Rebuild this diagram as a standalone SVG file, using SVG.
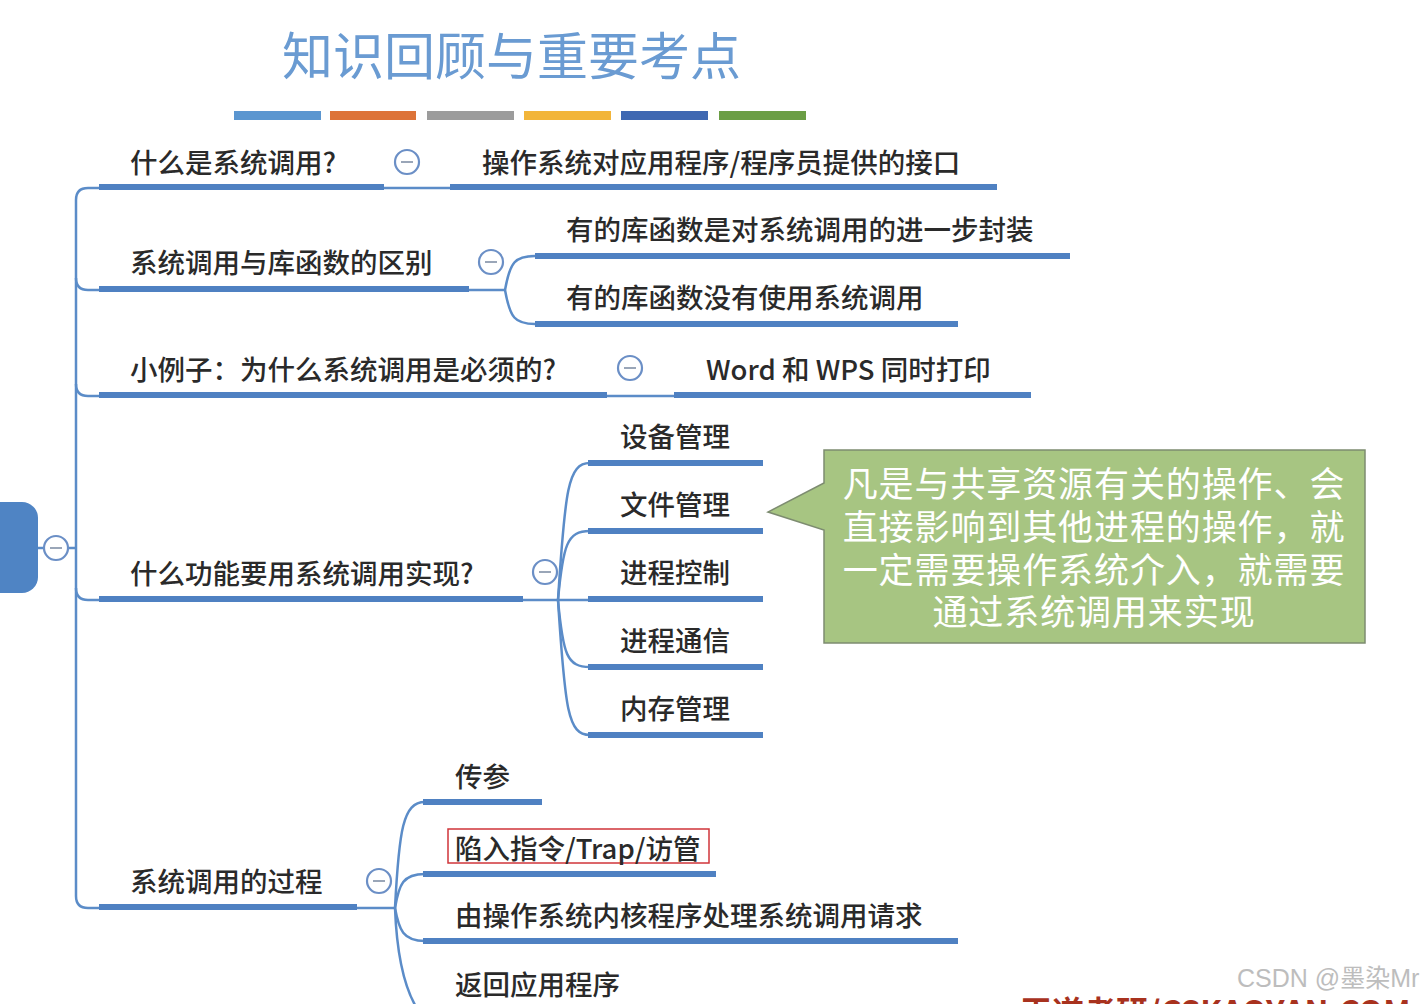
<svg xmlns="http://www.w3.org/2000/svg" width="1428" height="1004" viewBox="0 0 1428 1004">
<style>
.lbl{font-family:"Noto Sans CJK SC","Noto Sans",sans-serif;font-size:27.5px;fill:#2a2a2a;font-weight:500}
.thick{stroke:#4f81c2;stroke-width:6;fill:none}
.thin{stroke:#5b8cc8;stroke-width:2.5;fill:none}
.tog circle{fill:#fff;stroke:#6b8fc6;stroke-width:2.2}
.tog line{stroke:#9aa6b8;stroke-width:2}
</style>
<rect width="1428" height="1004" fill="#ffffff"/>

<g id="title">
<text x="282" y="75" font-family="'Noto Sans CJK SC',sans-serif" font-size="51" fill="#6a9bd2">知识回顾与重要考点</text>
<rect x="234" y="111" width="87" height="9" fill="#5b96d0"/>
<rect x="330" y="111" width="86" height="9" fill="#dd7338"/>
<rect x="427" y="111" width="87" height="9" fill="#9c9c9c"/>
<rect x="524" y="111" width="87" height="9" fill="#f2b53a"/>
<rect x="621" y="111" width="87" height="9" fill="#3f68b2"/>
<rect x="719" y="111" width="87" height="9" fill="#6b9e45"/>
</g>

<g id="connectors">
<path class="thin" d="M99 188 H88 Q76 188 76 200 V896 Q76 908 88 908 H99"/>
<path class="thin" d="M76 278 Q76 290 88 290 H99"/>
<path class="thin" d="M76 384 Q76 396 88 396 H99"/>
<path class="thin" d="M76 588 Q76 600 88 600 H99"/>
<path class="thin" d="M38 548 H76"/>
<path class="thin" d="M384 188 H450"/>
<path class="thin" d="M469 290 H505"/>
<path class="thin" d="M505 290 C510 262 515 256 535 256"/>
<path class="thin" d="M505 290 C510 318 515 324 535 324"/>
<path class="thin" d="M607 396 H674"/>
<path class="thin" d="M523 600 H590"/>
<path class="thin" d="M558 600 C565 490 568 463 590 463"/>
<path class="thin" d="M558 600 C563 545 567 531 590 531"/>
<path class="thin" d="M558 600 C563 655 567 667 590 667"/>
<path class="thin" d="M558 600 C565 710 568 735 590 735"/>
<path class="thin" d="M357 908 H395"/>
<path class="thin" d="M395 908 C399 830 403 802 425 802"/>
<path class="thin" d="M395 908 C399 884 403 874 425 874"/>
<path class="thin" d="M395 908 C399 930 403 941 425 941"/>
<path class="thin" d="M395 908 C397 960 405 990 418 1010"/>
</g>

<g id="root">
<rect x="-30" y="502" width="68" height="91" rx="16" fill="#4f84c4"/>
<g class="tog"><circle cx="56" cy="548" r="12"/><line x1="50" y1="548" x2="62" y2="548"/></g>
</g>

<g id="n1">
<text class="lbl" x="130" y="173">什么是系统调用?</text>
<path class="thick" d="M99 187 H384"/>
<g class="tog"><circle cx="407" cy="162" r="12"/><line x1="401" y1="162" x2="413" y2="162"/></g>
</g>
<g id="n1a">
<text class="lbl" x="482" y="173">操作系统对应用程序/程序员提供的接口</text>
<path class="thick" d="M450 187 H997"/>
</g>

<g id="n2">
<text class="lbl" x="130" y="273">系统调用与库函数的区别</text>
<path class="thick" d="M99 289 H469"/>
<g class="tog"><circle cx="491" cy="262" r="12"/><line x1="485" y1="262" x2="497" y2="262"/></g>
</g>
<g id="n2a">
<text class="lbl" x="566" y="240">有的库函数是对系统调用的进一步封装</text>
<path class="thick" d="M535 256 H1070"/>
</g>
<g id="n2b">
<text class="lbl" x="566" y="308">有的库函数没有使用系统调用</text>
<path class="thick" d="M535 324 H958"/>
</g>

<g id="n3">
<text class="lbl" x="130" y="380">小例子：为什么系统调用是必须的?</text>
<path class="thick" d="M99 395 H607"/>
<g class="tog"><circle cx="630" cy="368" r="12"/><line x1="624" y1="368" x2="636" y2="368"/></g>
</g>
<g id="n3a">
<text class="lbl" x="706" y="380">Word 和 WPS 同时打印</text>
<path class="thick" d="M674 395 H1031"/>
</g>

<g id="n4">
<text class="lbl" x="130" y="584">什么功能要用系统调用实现?</text>
<path class="thick" d="M99 599 H523"/>
<g class="tog"><circle cx="545" cy="572" r="12"/><line x1="539" y1="572" x2="551" y2="572"/></g>
</g>
<g id="n4a"><text class="lbl" x="620" y="447">设备管理</text><path class="thick" d="M588 463 H763"/></g>
<g id="n4b"><text class="lbl" x="620" y="515">文件管理</text><path class="thick" d="M588 531 H763"/></g>
<g id="n4c"><text class="lbl" x="620" y="583">进程控制</text><path class="thick" d="M588 599 H763"/></g>
<g id="n4d"><text class="lbl" x="620" y="651">进程通信</text><path class="thick" d="M588 667 H763"/></g>
<g id="n4e"><text class="lbl" x="620" y="719">内存管理</text><path class="thick" d="M588 735 H763"/></g>

<g id="callout">
<path d="M824 450 H1365 V643 H824 V530 L768 512 L824 483 Z" fill="#a7c582" stroke="#7d8c70" stroke-width="1.5"/>
<g font-family="'Noto Sans CJK SC',sans-serif" font-size="35" letter-spacing="0.9" fill="#ffffff" text-anchor="middle">
<text x="1094" y="497">凡是与共享资源有关的操作、会</text>
<text x="1094" y="540">直接影响到其他进程的操作，就</text>
<text x="1094" y="583">一定需要操作系统介入，就需要</text>
<text x="1094" y="625">通过系统调用来实现</text>
</g>
</g>

<g id="n5">
<text class="lbl" x="130" y="892">系统调用的过程</text>
<path class="thick" d="M99 907 H357"/>
<g class="tog"><circle cx="379" cy="881" r="12"/><line x1="373" y1="881" x2="385" y2="881"/></g>
</g>
<g id="n5a"><text class="lbl" x="455" y="787">传参</text><path class="thick" d="M423 802 H542"/></g>
<g id="n5b">
<rect x="448" y="829" width="261" height="34" fill="none" stroke="#d0353a" stroke-width="1.5"/>
<text class="lbl" x="455" y="859">陷入指令/Trap/访管</text>
<path class="thick" d="M423 874 H716"/>
</g>
<g id="n5c"><text class="lbl" x="455" y="926">由操作系统内核程序处理系统调用请求</text><path class="thick" d="M423 941 H958"/></g>
<g id="n5d"><text class="lbl" x="455" y="995">返回应用程序</text></g>

<g id="watermark">
<text x="1237" y="987" font-family="'Liberation Sans','Noto Sans CJK SC',sans-serif" font-size="25" fill="#bdbdbd">CSDN @墨染Mr</text>
<text x="1020" y="1024" font-family="'Noto Sans CJK SC',sans-serif" font-size="32" font-weight="bold" fill="#a8321e">王道考研/CSKAOYAN.COM</text>
</g>
</svg>
